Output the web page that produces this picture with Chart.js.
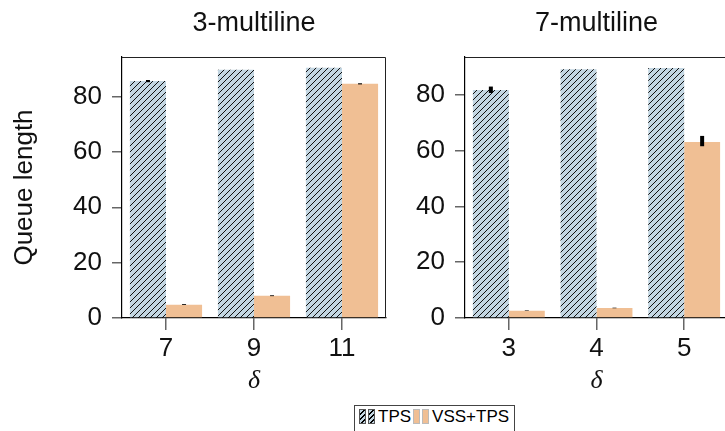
<!DOCTYPE html>
<html>
<head>
<meta charset="utf-8">
<script src="https://cdn.jsdelivr.net/npm/chart.js@4.4.1/dist/chart.umd.min.js"></script>
<style>
html, body { margin: 0; padding: 0; background: #fff; overflow: hidden; }
#wrap { position: relative; width: 725px; height: 431px; overflow: hidden; }
#left { position: absolute; left: 0; top: 0; }
#right { position: absolute; left: 405px; top: 0; }
#legend {
  position: absolute; left: 354px; top: 405px; width: 161px; height: 34px;
  border: 1px solid #444; box-sizing: border-box;
  display: flex; align-items: flex-start; padding: 2px 0 0 4px;
  font: 17px 'Liberation Sans', Arial, sans-serif; color: #000;
}
#legend .p { display: inline-block; width: 5px; height: 13px; border: 1px solid #555; margin: 1px 2px 0 0; }
#legend .t { margin: 0 2px 0 1px; line-height: 17px; }
</style>
</head>
<body>
<div id="wrap">
  <canvas id="left" width="400" height="400"></canvas>
  <canvas id="right" width="330" height="400"></canvas>
  <div id="legend"></div>
</div>
<script>
// series names
var seriesNames = ['TPS', 'VSS+TPS'];

// 3-multiline panel
var leftTitle = '3-multiline';
var leftCats = ['7', '9', '11'];
var leftTPS = [85.6, 89.7, 90.4];
var leftVSS = [4.8, 8.0, 84.6];
var leftTPSLow = [85.2, null, null];
var leftTPSHigh = [86.0, null, null];
var leftVSSLow = [4.7, 7.9, 84.4];
var leftVSSHigh = [5.0, 8.2, 84.8];

// 7-multiline panel
var rightTitle = '7-multiline';
var rightCats = ['3', '4', '5'];
var rightTPS = [81.8, 89.2, 89.7];
var rightVSS = [2.6, 3.6, 63.1];
var rightTPSLow = [80.7, null, null];
var rightTPSHigh = [83.0, null, null];
var rightVSSLow = [2.5, 3.5, 61.6];
var rightVSSHigh = [2.7, 3.7, 65.3];

var yTicks = [0, 20, 40, 60, 80];

var FONT = "'Liberation Sans', Arial, sans-serif";
var TPS_BG = '#c3d6e2';
var VSS_BG = '#f0bf94';

Chart.defaults.color = '#000';
Chart.defaults.font.family = FONT;

function hatchPattern(ctx) {
  var c = document.createElement('canvas');
  c.width = 6; c.height = 6;
  var g = c.getContext('2d');
  g.fillStyle = TPS_BG;
  g.fillRect(0, 0, 6, 6);
  g.strokeStyle = '#111';
  g.lineWidth = 1;
  g.beginPath();
  g.moveTo(-1, 7); g.lineTo(7, -1);
  g.moveTo(-2, 2); g.lineTo(2, -2);
  g.moveTo(4, 8); g.lineTo(8, 4);
  g.stroke();
  return ctx.createPattern(c, 'repeat');
}

var errorBars = {
  id: 'errorBars',
  afterDatasetsDraw: function(chart) {
    var ctx = chart.ctx, y = chart.scales.y;
    chart.data.datasets.forEach(function(ds, i) {
      var meta = chart.getDatasetMeta(i);
      meta.data.forEach(function(bar, j) {
        if (ds.errLow[j] == null) return;
        ctx.save();
        ctx.strokeStyle = '#000';
        ctx.lineWidth = 4;
        ctx.beginPath();
        ctx.moveTo(bar.x, y.getPixelForValue(ds.errLow[j]));
        ctx.lineTo(bar.x, y.getPixelForValue(ds.errHigh[j]));
        ctx.stroke();
        ctx.restore();
      });
    });
  }
};

var frame = {
  id: 'frame',
  afterDraw: function(chart) {
    var a = chart.chartArea, ctx = chart.ctx;
    ctx.save();
    ctx.strokeStyle = '#222';
    ctx.lineWidth = 1;
    ctx.beginPath();
    ctx.moveTo(a.left, a.top + 0.5);
    ctx.lineTo(a.right - 0.5, a.top + 0.5);
    ctx.lineTo(a.right - 0.5, a.bottom);
    ctx.stroke();
    ctx.restore();
  }
};

function makeChart(id, title, cats, tps, vss, tpsLo, tpsHi, vssLo, vssHi, yMax, yWidth, padRight, yTitle) {
  var ctx = document.getElementById(id).getContext('2d');
  return new Chart(ctx, {
    type: 'bar',
    data: {
      labels: cats,
      datasets: [{
        label: seriesNames[0],
        data: tps,
        backgroundColor: hatchPattern(ctx),
        borderWidth: 0,
        errLow: tpsLo,
        errHigh: tpsHi
      }, {
        label: seriesNames[1],
        data: vss,
        backgroundColor: VSS_BG,
        borderWidth: 0,
        errLow: vssLo,
        errHigh: vssHi
      }]
    },
    options: {
      responsive: false,
      animation: false,
      devicePixelRatio: 1,
      categoryPercentage: 0.82,
      barPercentage: 1.0,
      layout: { padding: { left: 0, right: padRight, top: 0, bottom: 0 } },
      plugins: {
        legend: { display: false },
        tooltip: { enabled: false },
        title: {
          display: true,
          text: title,
          fullSize: false,
          color: '#111',
          font: { size: 27, weight: 'normal', family: FONT, lineHeight: 1.2 },
          padding: { top: 7, bottom: 17.6 }
        }
      },
      scales: {
        x: {
          grid: { display: true, drawOnChartArea: false, offset: false, tickLength: 12, color: '#666', lineWidth: 1.5 },
          border: { display: true, color: '#000', width: 1.2 },
          ticks: { font: { size: 26, family: FONT }, color: '#111', padding: 3 },
          title: {
            display: true,
            text: 'δ',
            color: '#111',
            font: { size: 26, style: 'italic', family: "'Liberation Serif', 'DejaVu Serif', serif" },
            padding: { top: 0, bottom: 3 }
          },
          afterFit: function(s) { s.height = 82; }
        },
        y: {
          min: 0,
          max: yMax,
          grid: { display: true, drawOnChartArea: false, tickLength: 10, color: '#666', lineWidth: 1.5 },
          border: { display: true, color: '#000', width: 1.2 },
          ticks: {
            font: { size: 26, family: FONT },
            color: '#111',
            padding: 10,
            includeBounds: false,
            stepSize: 20
          },
          afterBuildTicks: function(s) {
            s.ticks = yTicks.map(function(v) { return { value: v }; });
          },
          title: {
            display: !!yTitle,
            text: yTitle || '',
            color: '#111',
            font: { size: 26, family: FONT },
            padding: { top: 9, bottom: 0 }
          },
          afterFit: function(s) { s.width = yWidth; }
        }
      }
    },
    plugins: [errorBars, frame]
  });
}

makeChart('left', leftTitle, leftCats, leftTPS, leftVSS, leftTPSLow, leftTPSHigh, leftVSSLow, leftVSSHigh,
  94.3, 122, 14, 'Queue length');
makeChart('right', rightTitle, rightCats, rightTPS, rightVSS, rightTPSLow, rightTPSHigh, rightVSSLow, rightVSSHigh,
  93.6, 60, 7, null);

// legend built from the series names
var lg = document.getElementById('legend');
var patchBg = [
  'repeating-linear-gradient(135deg, ' + TPS_BG + ' 0 2.6px, #000 2.6px 3.6px)',
  VSS_BG
];
seriesNames.forEach(function(name, i) {
  for (var k = 0; k < 2; k++) {
    var p = document.createElement('span');
    p.className = 'p';
    p.style.background = patchBg[i];
    if (i === 1) p.style.borderColor = '#bbb';
    lg.appendChild(p);
  }
  var t = document.createElement('span');
  t.className = 't';
  t.textContent = name;
  lg.appendChild(t);
});
</script>
</body>
</html>
